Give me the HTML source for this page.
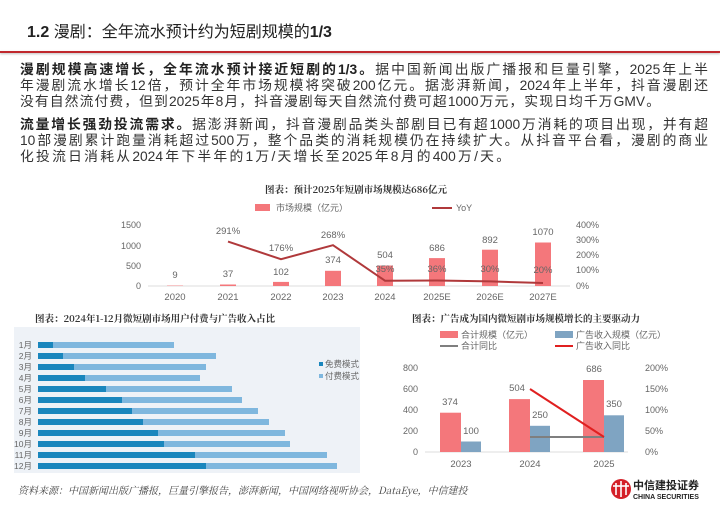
<!DOCTYPE html>
<html><head><meta charset="utf-8"><style>
body{margin:0;width:720px;height:510px;background:#fff;position:relative;overflow:hidden;font-family:"Liberation Sans","Noto Sans CJK SC",sans-serif;color:#222}
.a{position:absolute}
.t{position:absolute;left:20px;width:688px;font-size:13.8px;line-height:15.5px;white-space:nowrap;text-align:justify;text-align-last:justify;color:#333}
b{color:#222}
.cap{position:absolute;font-family:"Noto Serif CJK SC","Liberation Serif",serif;font-weight:bold;font-size:9.5px;color:#333;white-space:nowrap}
</style></head><body>
<div class="a" style="left:27px;top:18px;font-size:16px;font-weight:bold;color:#222;white-space:nowrap">1.2 <span style="font-weight:normal">漫剧：全年流水预计约为短剧规模的</span>1/3</div>
<div class="a" style="left:0;top:51px;width:720px;height:2px;background:#c0282d;box-shadow:0 1px 2px #bbb"></div>
<div class="t" style="top:62px"><b>漫剧规模高速增长，全年流水预计接近短剧的1/3。</b>据中国新闻出版广播报和巨量引擎，2025年上半</div>
<div class="t" style="top:78px">年漫剧流水增长12倍，预计全年市场规模将突破200亿元。据澎湃新闻，2024年上半年，抖音漫剧还</div>
<div class="t" style="top:94px;width:640px">没有自然流付费，但到2025年8月，抖音漫剧每天自然流付费可超1000万元，实现日均千万GMV。</div>
<div class="t" style="top:117px"><b>流量增长强劲投流需求。</b>据澎湃新闻，抖音漫剧品类头部剧目已有超1000万消耗的项目出现，并有超</div>
<div class="t" style="top:133px">10部漫剧累计跑量消耗超过500万，整个品类的消耗规模仍在持续扩大。从抖音平台看，漫剧的商业</div>
<div class="t" style="top:149px;width:490px">化投流日消耗从2024年下半年的1万/天增长至2025年8月的400万/天。</div>

<div class="cap" style="left:265px;top:182px">图表：预计2025年短剧市场规模达686亿元</div>
<div class="cap" style="left:35px;top:311px">图表：2024年1-12月微短剧市场用户付费与广告收入占比</div>
<div class="cap" style="left:412px;top:311px">图表：广告成为国内微短剧市场规模增长的主要驱动力</div>

<svg class="a" style="left:0;top:0" width="720" height="510" font-family="Liberation Sans,Noto Sans CJK SC,sans-serif">
<g font-size="9" fill="#666">
<rect x="255" y="204" width="15" height="7" fill="#f4777b"/><text x="276" y="211">市场规模（亿元）</text>
<line x1="432" y1="208" x2="452" y2="208" stroke="#b0393b" stroke-width="2"/><text x="456" y="211">YoY</text>
<g text-anchor="end"><text x="141" y="228">1500</text><text x="141" y="249">1000</text><text x="141" y="269">500</text><text x="141" y="289">0</text></g>
<g><text x="576" y="228">400%</text><text x="576" y="243">300%</text><text x="576" y="258">200%</text><text x="576" y="273">100%</text><text x="576" y="289">0%</text></g>
<line x1="148" y1="286" x2="570" y2="286" stroke="#ddd"/>
<g fill="#f4777b">
<rect x="167" y="285.6" width="16" height="0.4"/><rect x="220" y="284.5" width="16" height="1.5"/><rect x="273" y="281.9" width="16" height="4.1"/><rect x="325" y="270.8" width="16" height="15.2"/><rect x="377" y="265.5" width="16" height="20.5"/><rect x="429" y="258.1" width="16" height="27.9"/><rect x="482" y="249.7" width="16" height="36.3"/><rect x="535" y="242.5" width="16" height="43.5"/>
</g>
<polyline points="228,241.6 281,259.2 333,245.2 385,280.7 437,280.5 490,281.4 543,283" fill="none" stroke="#b0393b" stroke-width="2"/>
<g text-anchor="middle" font-size="9.5">
<text x="175" y="278">9</text><text x="228" y="277">37</text><text x="281" y="275">102</text><text x="333" y="263">374</text><text x="385" y="258">504</text><text x="437" y="251">686</text><text x="490" y="243">892</text><text x="543" y="235">1070</text>
<text x="228" y="234">291%</text><text x="281" y="251">176%</text><text x="333" y="238">268%</text><text x="385" y="272">35%</text><text x="437" y="272">36%</text><text x="490" y="272">30%</text><text x="543" y="273">20%</text>
<text x="175" y="300">2020</text><text x="228" y="300">2021</text><text x="281" y="300">2022</text><text x="333" y="300">2023</text><text x="385" y="300">2024</text><text x="437" y="300">2025E</text><text x="490" y="300">2026E</text><text x="543" y="300">2027E</text>
</g>
</g>
<rect x="14" y="327" width="346" height="146" fill="#eef2f7"/>
<g font-size="8.5" fill="#666">
<rect x="38" y="342" width="136" height="6" fill="#7fb7de"/><rect x="38" y="342" width="15" height="6" fill="#1a86bd"/>
<rect x="38" y="353" width="178" height="6" fill="#7fb7de"/><rect x="38" y="353" width="25" height="6" fill="#1a86bd"/>
<rect x="38" y="364" width="168" height="6" fill="#7fb7de"/><rect x="38" y="364" width="36" height="6" fill="#1a86bd"/>
<rect x="38" y="375" width="162" height="6" fill="#7fb7de"/><rect x="38" y="375" width="47" height="6" fill="#1a86bd"/>
<rect x="38" y="386" width="194" height="6" fill="#7fb7de"/><rect x="38" y="386" width="68" height="6" fill="#1a86bd"/>
<rect x="38" y="397" width="204" height="6" fill="#7fb7de"/><rect x="38" y="397" width="84" height="6" fill="#1a86bd"/>
<rect x="38" y="408" width="220" height="6" fill="#7fb7de"/><rect x="38" y="408" width="94" height="6" fill="#1a86bd"/>
<rect x="38" y="419" width="231" height="6" fill="#7fb7de"/><rect x="38" y="419" width="105" height="6" fill="#1a86bd"/>
<rect x="38" y="430" width="247" height="6" fill="#7fb7de"/><rect x="38" y="430" width="120" height="6" fill="#1a86bd"/>
<rect x="38" y="441" width="252" height="6" fill="#7fb7de"/><rect x="38" y="441" width="126" height="6" fill="#1a86bd"/>
<rect x="38" y="452" width="289" height="6" fill="#7fb7de"/><rect x="38" y="452" width="157" height="6" fill="#1a86bd"/>
<rect x="38" y="463" width="299" height="6" fill="#7fb7de"/><rect x="38" y="463" width="168" height="6" fill="#1a86bd"/>
<g text-anchor="end"><text x="32" y="348">1月</text><text x="32" y="359">2月</text><text x="32" y="370">3月</text><text x="32" y="381">4月</text><text x="32" y="392">5月</text><text x="32" y="403">6月</text><text x="32" y="414">7月</text><text x="32" y="425">8月</text><text x="32" y="436">9月</text><text x="32" y="447">10月</text><text x="32" y="458">11月</text><text x="32" y="469">12月</text></g>
<rect x="319" y="362" width="4" height="4" fill="#1a86bd"/><text x="325" y="367">免费模式</text>
<rect x="319" y="374" width="4" height="4" fill="#7fb7de"/><text x="325" y="379">付费模式</text>
</g>
<text x="18" y="494" font-size="10" font-style="italic" fill="#444" font-family="Noto Serif CJK SC,Liberation Serif,serif">资料来源：中国新闻出版广播报，巨量引擎报告，澎湃新闻，中国网络视听协会，DataEye，中信建投</text>
<g font-size="9" fill="#666">
<rect x="440" y="331" width="18" height="7" fill="#f4777b"/><text x="461" y="338">合计规模（亿元）</text>
<rect x="555" y="331" width="18" height="7" fill="#7fa4c2"/><text x="576" y="338">广告收入规模（亿元）</text>
<line x1="440" y1="346" x2="458" y2="346" stroke="#7f7f7f" stroke-width="2"/><text x="461" y="349">合计同比</text>
<line x1="555" y1="346" x2="573" y2="346" stroke="#e02020" stroke-width="2"/><text x="576" y="349">广告收入同比</text>
<g text-anchor="end"><text x="418" y="371">800</text><text x="418" y="392">600</text><text x="418" y="413">400</text><text x="418" y="434">200</text><text x="418" y="455">0</text></g>
<g><text x="645" y="371">200%</text><text x="645" y="392">150%</text><text x="645" y="413">100%</text><text x="645" y="434">50%</text><text x="645" y="455">0%</text></g>
<line x1="425" y1="452" x2="628" y2="452" stroke="#ddd"/>
<rect x="440" y="412.7" width="21" height="39.3" fill="#f4777b"/><rect x="461" y="441.5" width="20" height="10.5" fill="#7fa4c2"/>
<rect x="509" y="399.1" width="21" height="52.9" fill="#f4777b"/><rect x="530" y="425.8" width="20" height="26.2" fill="#7fa4c2"/>
<rect x="583" y="380" width="21" height="72" fill="#f4777b"/><rect x="604" y="415.3" width="20" height="36.7" fill="#7fa4c2"/>
<line x1="530" y1="437" x2="604" y2="437" stroke="#7f7f7f" stroke-width="2"/>
<line x1="530" y1="389" x2="604" y2="437" stroke="#e02020" stroke-width="2"/>
<g text-anchor="middle" font-size="9.5"><text x="450" y="405">374</text><text x="471" y="434">100</text><text x="517" y="391">504</text><text x="540" y="418">250</text><text x="594" y="372">686</text><text x="614" y="407">350</text>
<text x="461" y="467">2023</text><text x="530" y="467">2024</text><text x="604" y="467">2025</text></g>
</g>
<circle cx="621" cy="489" r="10" fill="#d42028"/>
<g stroke="#fff" stroke-width="1.6" fill="none"><line x1="616" y1="483" x2="616" y2="495"/><line x1="621" y1="481" x2="621" y2="497"/><line x1="626" y1="483" x2="626" y2="495"/><line x1="613" y1="486" x2="629" y2="486"/></g>
<text x="633" y="489" font-size="11" font-weight="bold" fill="#222">中信建投证券</text>
<text x="633" y="499" font-size="7" font-weight="bold" fill="#222">CHINA SECURITIES</text>
</svg>
</body></html>
